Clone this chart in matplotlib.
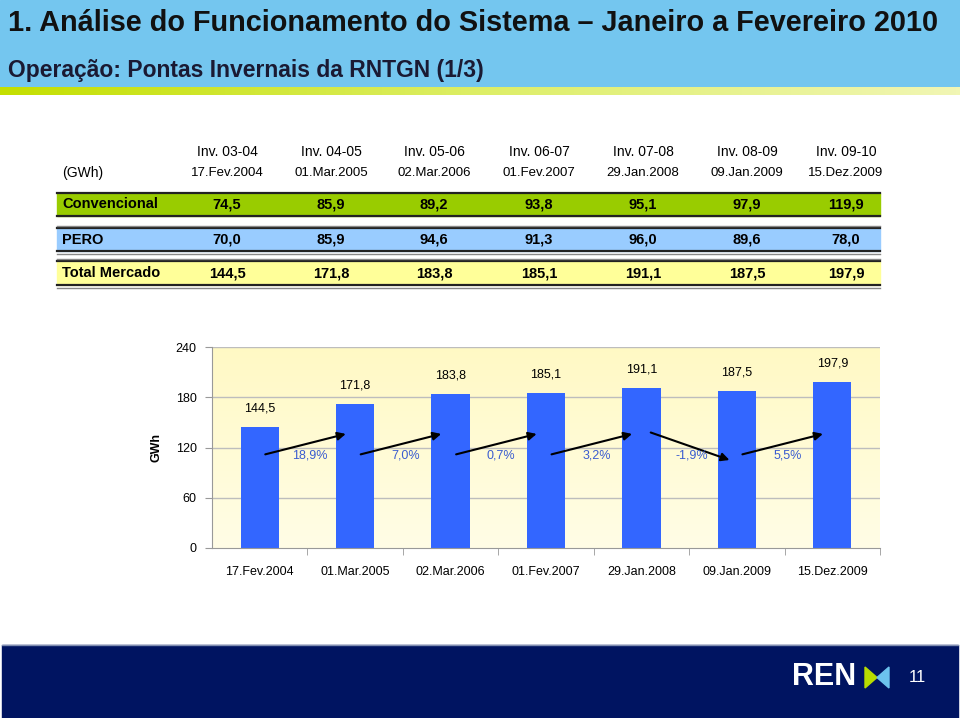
import matplotlib.pyplot as plt
import numpy as np
from matplotlib.colors import LinearSegmentedColormap

winters = ['Inv. 03-04', 'Inv. 04-05', 'Inv. 05-06', 'Inv. 06-07', 'Inv. 07-08', 'Inv. 08-09', 'Inv. 09-10']
dates = ['17.Fev.2004', '01.Mar.2005', '02.Mar.2006', '01.Fev.2007', '29.Jan.2008', '09.Jan.2009', '15.Dez.2009']
convencional = [74.5, 85.9, 89.2, 93.8, 95.1, 97.9, 119.9]
pero = [70.0, 85.9, 94.6, 91.3, 96.0, 89.6, 78.0]
total = [144.5, 171.8, 183.8, 185.1, 191.1, 187.5, 197.9]
growth = ['18,9%', '7,0%', '0,7%', '3,2%', '-1,9%', '5,5%']

sans = ['Liberation Sans', 'DejaVu Sans']


def fmt(v):
    return f'{v:.1f}'.replace('.', ',')


fig = plt.figure(figsize=(9.6, 7.18), dpi=100)

# background layer in pixel coordinates
bg = fig.add_axes([0, 0, 1, 1])
bg.set_xlim(0, 960)
bg.set_ylim(718, 0)
bg.axis('off')

# header
bg.add_patch(plt.Rectangle((0, 0), 960, 87, color='#74C6EF', zorder=1))
stripe = LinearSegmentedColormap.from_list('stripe', ['#C4DF00', '#DDEE66', '#F1F6B4'])
bg.imshow(np.linspace(0, 1, 256).reshape(1, -1), cmap=stripe, aspect='auto',
          extent=(0, 960, 95, 87), zorder=2)
bg.text(8, 23, '1. Análise do Funcionamento do Sistema \u2013 Janeiro a Fevereiro 2010',
        fontsize=20.8, fontweight='bold', family=sans, va='center', ha='left', color='#111111')
bg.text(8, 70, 'Operação: Pontas Invernais da RNTGN (1/3)',
        fontsize=16.5, fontweight='bold', family=sans, va='center', ha='left', color='#1A1A33')

# table
cols = [227, 331, 434, 539, 643, 747, 846]
for x, w, d in zip(cols, winters, dates):
    bg.text(x, 152, w, fontsize=10, family=sans, ha='center', va='center')
    bg.text(x, 173, d, fontsize=9.5, family=sans, ha='center', va='center')
bg.text(62, 173, '(GWh)', fontsize=10, family=sans, ha='left', va='center')

rows = [('Convencional', convencional, '#99CC00', 193, 216, False),
        ('PERO', pero, '#99CCFF', 228, 251, True),
        ('Total Mercado', total, '#FFFF99', 261, 285, True)]
for name, vals, col, y0, y1, double in rows:
    bg.add_patch(plt.Rectangle((57, y0), 823, y1 - y0, color=col, zorder=1))
    bg.plot([57, 880], [y0, y0], color='#222222', lw=1.6, zorder=2)
    bg.plot([57, 880], [y1, y1], color='#222222', lw=1.6, zorder=2)
    if double:
        bg.plot([57, 880], [y0 - 2.5, y0 - 2.5], color='#888888', lw=1, zorder=2)
        bg.plot([57, 880], [y1 + 2.5, y1 + 2.5], color='#888888', lw=1, zorder=2)
    yc = (y0 + y1) / 2
    bg.text(62, yc, name, fontsize=10.5, fontweight='bold', family=sans, ha='left', va='center')
    for x, v in zip(cols, vals):
        bg.text(x, yc, fmt(v), fontsize=10.5, fontweight='bold', family=sans, ha='center', va='center')

# footer
bg.add_patch(plt.Rectangle((2, 645), 956, 73, color='#001461', zorder=1))
bg.plot([2, 958], [645, 645], color='#7F8DB0', lw=1, zorder=2)
bg.text(824, 677, 'REN', fontsize=22, fontweight='bold', family=sans, color='white',
        ha='center', va='center')
bg.add_patch(plt.Polygon([(865, 667), (865, 688), (877, 677.5)], color='#B8DC00', zorder=3))
bg.add_patch(plt.Polygon([(889, 667), (889, 688), (877, 677.5)], color='#6CC3EE', zorder=3))
bg.text(917, 678, '11', fontsize=12, family=sans, color='white', ha='center', va='center')

# chart
ax = fig.add_axes([212 / 960, 1 - 548 / 718, 668 / 960, 201 / 718])
x = np.arange(len(total))
ax.set_xlim(-0.5, 6.5)
ax.set_ylim(0, 240)
plot_bg = LinearSegmentedColormap.from_list('plotbg', ['#FFFDE6', '#FFF9C4'])
ax.imshow(np.linspace(0, 1, 256).reshape(-1, 1), cmap=plot_bg, aspect='auto',
          extent=(-0.5, 6.5, 0, 240), origin='lower', zorder=0)
for yv in [60, 120, 180, 240]:
    ax.axhline(yv, color='#BDBDBD', lw=1, zorder=1)

ax.bar(x, total, width=0.4, color='#3366FF', zorder=2)
for xi, v in zip(x, total):
    ax.text(xi, v + 22, fmt(v), fontsize=9, family=sans, ha='center', va='center')

for i, g in enumerate(growth):
    if total[i + 1] >= total[i]:
        start, end = (i + 0.03, 111), (i + 0.93, 137)
    else:
        start, end = (i + 0.07, 139), (i + 0.95, 104)
    ax.annotate('', xy=end, xytext=start,
                arrowprops=dict(arrowstyle='-|>', color='black', lw=1.5, mutation_scale=12),
                zorder=4)
    ax.text(i + 0.53, 110, g, fontsize=9, family=sans, color='#3A5CD0',
            ha='center', va='center', zorder=5)

ax.set_yticks([0, 60, 120, 180, 240])
ax.set_xticks(x)
ax.set_xticklabels(dates, fontsize=9, family=sans)
ax.set_xticks(np.arange(0.5, 7, 1), minor=True)
ax.tick_params(axis='x', which='major', length=0, pad=13)
ax.tick_params(axis='x', which='minor', length=5, color='#999999', direction='out')
ax.tick_params(axis='y', length=5, color='#999999', labelsize=9, pad=6)
for lab in ax.get_yticklabels():
    lab.set_family(sans)
ax.set_ylabel('GWh', fontsize=9, fontweight='bold', family=sans)
ax.yaxis.set_label_coords(-50 / 668, 0.5)
for s in ['top', 'right']:
    ax.spines[s].set_visible(False)
for s in ['left', 'bottom']:
    ax.spines[s].set_color('#999999')

fig.savefig('out.png', dpi=100)
